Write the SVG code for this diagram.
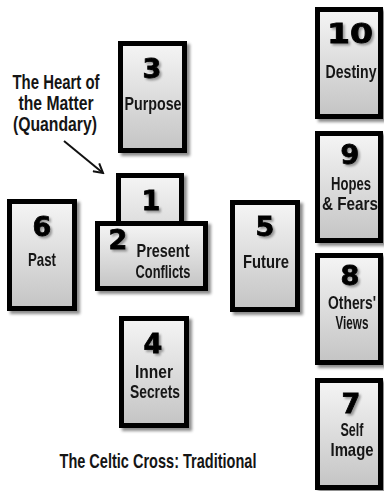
<svg xmlns="http://www.w3.org/2000/svg" width="384" height="491" viewBox="0 0 384 491">
<style>
.card{fill:url(#cg);stroke:#000;stroke-width:5}
.num{font-family:"DejaVu Sans",sans-serif;font-weight:bold;font-size:27px;fill:#000;stroke:#000;stroke-width:0.8;text-anchor:middle}
.lbl{font-family:"Liberation Sans",sans-serif;font-weight:bold;font-size:19px;fill:#151515;text-anchor:middle}
.note{font-family:"Liberation Sans",sans-serif;font-weight:bold;font-size:21px;fill:#151515;text-anchor:middle}
</style>
<defs>
<linearGradient id="cg" x1="0" y1="0" x2="0" y2="1">
<stop offset="0" stop-color="#f5f5f5"/>
<stop offset="1" stop-color="#c4c4c4"/>
</linearGradient>
<filter id="sh" x="-20%" y="-20%" width="140%" height="140%">
<feGaussianBlur in="SourceAlpha" stdDeviation="1.5"/>
<feOffset dx="3" dy="3" result="b"/>
<feFlood flood-color="#000" flood-opacity="0.45"/>
<feComposite in2="b" operator="in"/>
<feMerge><feMergeNode/><feMergeNode in="SourceGraphic"/></feMerge>
</filter>
<filter id="tsh" x="-30%" y="-30%" width="160%" height="160%">
<feGaussianBlur in="SourceAlpha" stdDeviation="1"/>
<feOffset dx="2" dy="2" result="b"/>
<feFlood flood-color="#000" flood-opacity="0.35"/>
<feComposite in2="b" operator="in"/>
<feMerge><feMergeNode/><feMergeNode in="SourceGraphic"/></feMerge>
</filter>
<marker id="ah" markerWidth="12" markerHeight="12" refX="10" refY="6" orient="auto" markerUnits="userSpaceOnUse">
<path d="M1,1 L10,6 L1,11" fill="none" stroke="#111" stroke-width="2"/>
</marker>
</defs>
<rect width="384" height="491" fill="#fff"/>

<g id="annotation">
<text class="note" x="56" y="89" textLength="87" lengthAdjust="spacingAndGlyphs">The Heart of</text>
<text class="note" x="56" y="110" textLength="75" lengthAdjust="spacingAndGlyphs">the Matter</text>
<text class="note" x="55" y="131" textLength="84" lengthAdjust="spacingAndGlyphs">(Quandary)</text>
</g>

<g id="connectors">
<line x1="64" y1="141" x2="103" y2="173" stroke="#111" stroke-width="2" marker-end="url(#ah)"/>
</g>

<g id="card3" filter="url(#sh)">
<rect class="card" x="120.5" y="43.5" width="64" height="107"/>
<text class="num" x="152" y="78" filter="url(#tsh)">3</text>
<text class="lbl" x="153" y="110" textLength="57" lengthAdjust="spacingAndGlyphs">Purpose</text>
</g>

<g id="card1" filter="url(#sh)">
<rect class="card" x="118.5" y="175.5" width="63" height="100"/>
<text class="num" x="151" y="210" filter="url(#tsh)">1</text>
</g>

<g id="card2" filter="url(#sh)">
<rect class="card" x="97.5" y="223.5" width="108" height="65"/>
<text class="num" x="118" y="249" filter="url(#tsh)">2</text>
<text class="lbl" x="163" y="257" textLength="53" lengthAdjust="spacingAndGlyphs">Present</text>
<text class="lbl" x="163" y="278" textLength="55" lengthAdjust="spacingAndGlyphs">Conflicts</text>
</g>

<g id="card6" filter="url(#sh)">
<rect class="card" x="9.5" y="201.5" width="65" height="107"/>
<text class="num" x="42" y="236" filter="url(#tsh)">6</text>
<text class="lbl" x="42" y="266" textLength="28" lengthAdjust="spacingAndGlyphs">Past</text>
</g>

<g id="card5" filter="url(#sh)">
<rect class="card" x="232.5" y="202.5" width="65" height="107"/>
<text class="num" x="265" y="236" filter="url(#tsh)">5</text>
<text class="lbl" x="266" y="268" textLength="46" lengthAdjust="spacingAndGlyphs">Future</text>
</g>

<g id="card4" filter="url(#sh)">
<rect class="card" x="121.5" y="318.5" width="65" height="107"/>
<text class="num" x="153" y="353" filter="url(#tsh)">4</text>
<text class="lbl" x="154" y="378" textLength="38" lengthAdjust="spacingAndGlyphs">Inner</text>
<text class="lbl" x="155" y="398" textLength="50" lengthAdjust="spacingAndGlyphs">Secrets</text>
</g>

<g id="card10" filter="url(#sh)">
<rect class="card" x="317.5" y="9.5" width="63" height="107"/>
<text class="num" x="350" y="43" textLength="46" lengthAdjust="spacingAndGlyphs" filter="url(#tsh)">10</text>
<text class="lbl" x="351" y="78" textLength="51" lengthAdjust="spacingAndGlyphs">Destiny</text>
</g>

<g id="card9" filter="url(#sh)">
<rect class="card" x="317.5" y="133.5" width="63" height="107"/>
<text class="num" x="350" y="164" filter="url(#tsh)">9</text>
<text class="lbl" x="351" y="190" textLength="40" lengthAdjust="spacingAndGlyphs">Hopes</text>
<text class="lbl" x="350" y="210" textLength="56" lengthAdjust="spacingAndGlyphs">&amp; Fears</text>
</g>

<g id="card8" filter="url(#sh)">
<rect class="card" x="317.5" y="255.5" width="63" height="107"/>
<text class="num" x="350" y="285" filter="url(#tsh)">8</text>
<text class="lbl" x="352" y="309" textLength="48" lengthAdjust="spacingAndGlyphs">Others'</text>
<text class="lbl" x="352" y="329" textLength="33" lengthAdjust="spacingAndGlyphs">Views</text>
</g>

<g id="card7" filter="url(#sh)">
<rect class="card" x="317.5" y="380.5" width="63" height="107"/>
<text class="num" x="351" y="413" filter="url(#tsh)">7</text>
<text class="lbl" x="352" y="436" textLength="23" lengthAdjust="spacingAndGlyphs">Self</text>
<text class="lbl" x="352" y="456" textLength="43" lengthAdjust="spacingAndGlyphs">Image</text>
</g>

<g id="title">
<text class="note" x="158" y="468" textLength="197" lengthAdjust="spacingAndGlyphs">The Celtic Cross: Traditional</text>
</g>
</svg>
